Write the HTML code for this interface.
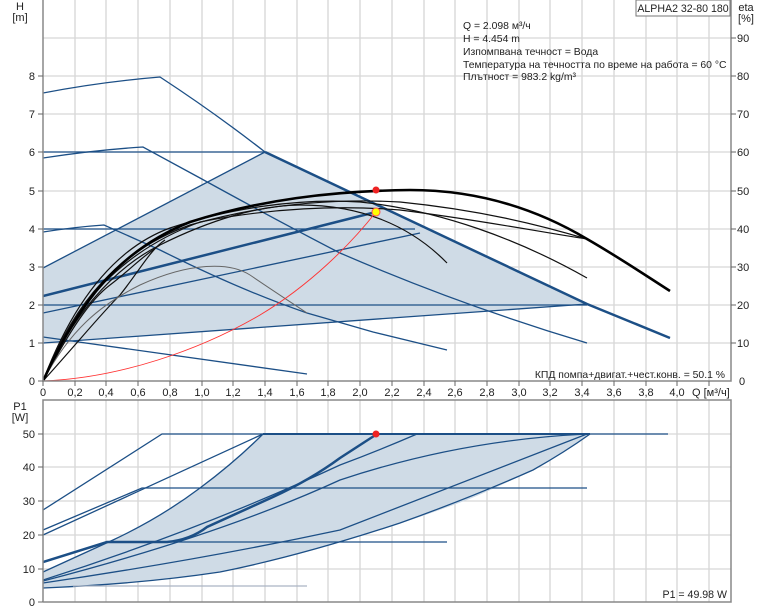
<!DOCTYPE html>
<html><head><meta charset="utf-8"><style>
html,body{margin:0;padding:0;background:#fff;}
svg{display:block;font-family:"Liberation Sans",sans-serif;}
</style></head><body>
<svg width="774" height="611" viewBox="0 0 774 611" xmlns="http://www.w3.org/2000/svg">
<defs>
<clipPath id="ct"><rect x="43" y="0" width="688" height="381"/></clipPath>
<clipPath id="cb"><rect x="43" y="400" width="688" height="202"/></clipPath>
</defs>
<g stroke="#d6d6d6" stroke-width="1.3">
<path d="M75,0V381M106,0V381M138,0V381M170,0V381M202,0V381M233,0V381M265,0V381M297,0V381M328,0V381M360,0V381M392,0V381M424,0V381M455,0V381M487,0V381M519,0V381M550,0V381M582,0V381M614,0V381M646,0V381M677,0V381M709,0V381"/>
<path d="M43,343H731M43,305H731M43,267H731M43,229H731M43,191H731M43,152H731M43,114H731M43,76H731M43,38H731"/>
<path d="M75,400V602M106,400V602M138,400V602M170,400V602M202,400V602M233,400V602M265,400V602M297,400V602M328,400V602M360,400V602M392,400V602M424,400V602M455,400V602M487,400V602M519,400V602M550,400V602M582,400V602M614,400V602M646,400V602M677,400V602M709,400V602"/>
<path d="M43,569H731M43,535H731M43,501H731M43,467H731M43,434H731"/>
</g>
<g clip-path="url(#ct)" fill="none">
<polygon points="43,268 265,152 587,304 43,343" fill="#cfdbe6" stroke="none"/>
<g stroke="#1c4f86" stroke-width="1.3">
<path d="M43,93 Q100,82 160,77 Q215,113 265,152"/>
<path d="M43,158 Q95,150 143,147 L200,178 Q280,222 340,253 Q460,305 587,343"/>
<path d="M43,152 H265"/>
<path d="M43,232 Q75,227 104,225 L160,250 Q240,290 307,313 L373,332 L447,350"/>
<path d="M43,313 L420,233"/>
<path d="M43,229 H415"/>
<path d="M43,305 H587"/>
<path d="M43,343 L587,304"/>
<path d="M43,268 L265,152"/>
<path d="M43,337 L307,374"/>
</g>
<path d="M265,152 L587,304 L670,338" stroke="#1c4f86" stroke-width="2.5"/>
<path d="M43,296 L376,212" stroke="#1c4f86" stroke-width="2.5"/>
<g stroke="#111" stroke-width="1.2">
<path d="M43,381 C70,320 110,270 160,245 C210,220 260,205 300,205 C360,205 410,225 447,263"/>
<path d="M43,381 C70,310 110,250 170,228 C230,208 300,198 360,202 C440,210 520,240 587,278"/>
<path d="M43,381 C75,300 120,250 190,225 C260,205 330,198 400,202 C480,210 540,225 587,239"/>
<path d="M43,381 C75,300 125,250 200,222 C270,208 340,205 400,210 C480,220 540,232 587,239"/>
<path d="M43,381 C80,340 100,315 120,295 C140,270 150,250 165,240"/>
<path d="M43,381 C70,330 90,300 110,285 C130,270 140,258 160,245"/>
</g>
<path d="M43,381 C70,330 100,305 140,285 C190,262 230,262 250,275 C275,292 295,305 307,313" stroke="#666" stroke-width="1"/>
<path d="M43,381 C80,300 120,250 190,222 C260,200 330,191 410,190 C470,190 530,205 587,239 C620,258 645,275 670,291" stroke="#000" stroke-width="2.6"/>
<path d="M43,381 C120,378 200,350 260,315 C310,285 350,245 376,212" stroke="#f33" stroke-width="0.9"/>
<circle cx="376" cy="190" r="3.5" fill="#e22"/>
<circle cx="376" cy="212" r="4" fill="#ff0" stroke="#f55" stroke-width="1"/>
</g>
<g stroke="#888" stroke-width="1.5" fill="none">
<path d="M43,0V381H731V0"/>
</g>
<g stroke="#666" stroke-width="1">
<path d="M38,343H43M38,305H43M38,267H43M38,229H43M38,191H43M38,152H43M38,114H43M38,76H43M38,381H43"/>
<path d="M731,343H736M731,305H736M731,267H736M731,229H736M731,191H736M731,152H736M731,114H736M731,76H736M731,38H736"/>
<path d="M43,381V386M75,381V386M106,381V386M138,381V386M170,381V386M202,381V386M233,381V386M265,381V386M297,381V386M328,381V386M360,381V386M392,381V386M424,381V386M455,381V386M487,381V386M519,381V386M550,381V386M582,381V386M614,381V386M646,381V386M677,381V386M709,381V386"/>
</g>
<g font-size="11" fill="#222">
<text x="20" y="10" text-anchor="middle">H</text>
<text x="20" y="21" text-anchor="middle">[m]</text>
<g text-anchor="end">
<text x="35" y="385">0</text><text x="35" y="347">1</text><text x="35" y="309">2</text><text x="35" y="271">3</text><text x="35" y="233">4</text><text x="35" y="195">5</text><text x="35" y="156">6</text><text x="35" y="118">7</text><text x="35" y="80">8</text>
</g>
<text x="746" y="11" text-anchor="middle">eta</text>
<text x="746" y="22" text-anchor="middle">[%]</text>
<g>
<text x="739" y="385">0</text><text x="737" y="347">10</text><text x="737" y="309">20</text><text x="737" y="271">30</text><text x="737" y="233">40</text><text x="737" y="195">50</text><text x="737" y="156">60</text><text x="737" y="118">70</text><text x="737" y="80">80</text><text x="737" y="42">90</text>
</g>
<g text-anchor="middle">
<text x="43" y="396">0</text><text x="75" y="396">0,2</text><text x="106" y="396">0,4</text><text x="138" y="396">0,6</text><text x="170" y="396">0,8</text><text x="202" y="396">1,0</text><text x="233" y="396">1,2</text><text x="265" y="396">1,4</text><text x="297" y="396">1,6</text><text x="328" y="396">1,8</text><text x="360" y="396">2,0</text><text x="392" y="396">2,2</text><text x="424" y="396">2,4</text><text x="455" y="396">2,6</text><text x="487" y="396">2,8</text><text x="519" y="396">3,0</text><text x="550" y="396">3,2</text><text x="582" y="396">3,4</text><text x="614" y="396">3,6</text><text x="646" y="396">3,8</text><text x="677" y="396">4,0</text>
</g>
<text x="692" y="396">Q [м³/ч]</text>
<g font-size="10.4">
<text x="463" y="29">Q = 2.098 м³/ч</text>
<text x="463" y="42">H = 4.454 m</text>
<text x="463" y="55">Изпомпвана течност = Вода</text>
<text x="463" y="68">Температура на течността по време на работа = 60 °C</text>
<text x="463" y="80">Плътност = 983.2 kg/m³</text>
<text x="725" y="378" text-anchor="end">КПД помпа+двигат.+чест.конв. = 50.1 %</text>
</g>
</g>
<rect x="636" y="0" width="94" height="16" fill="#fff" stroke="#777" stroke-width="1"/>
<text x="683" y="12" font-size="10.6" text-anchor="middle" fill="#222">ALPHA2 32-80 180</text>

<g clip-path="url(#cb)" fill="none">
<path d="M43,572 Q80,555 113,540 Q160,518 200,488 Q235,462 263,434 L590,434 Q540,470 467,500 Q400,525 340,542 Q280,560 220,572 Q140,583 43,588 Z" fill="#cfdbe6" stroke="none"/>
<g stroke="#1c4f86" stroke-width="1.3">
<path d="M43,510 L162,434 H668"/>
<path d="M43,530 L142,488 H587"/>
<path d="M43,535 L263,434"/>
<path d="M43,572 Q80,555 113,540 Q160,518 200,488 Q235,462 263,434"/>
<path d="M43,580 Q200,530 340,465 Q380,450 417,434"/>
<path d="M43,581 Q220,535 340,480 Q460,440 587,434"/>
<path d="M43,583 Q200,560 340,530 Q470,480 587,434"/>
<path d="M43,588 Q140,584 220,572 Q300,556 400,523 Q470,498 533,470 Q565,452 590,434"/>
<path d="M107,542 H447"/>
</g>
<path d="M73,586 H307" stroke="#aab4c4" stroke-width="1.3"/>
<path d="M263,434 H590" stroke="#1c4f86" stroke-width="2"/>
<path d="M43,562 L107,542 H167 Q190,540 207,527 Q240,512 273,497 Q310,480 340,458 Q360,445 377,434" stroke="#1c4f86" stroke-width="2.5"/>
<circle cx="376" cy="434" r="3.5" fill="#e22"/>
</g>
<g stroke="#888" stroke-width="1.5" fill="none">
<path d="M43,602V400H731V602H43"/>
</g>
<g stroke="#666" stroke-width="1">
<path d="M38,602H43M38,569H43M38,535H43M38,501H43M38,467H43M38,434H43"/>
</g>
<g font-size="11" fill="#222">
<text x="20" y="410" text-anchor="middle">P1</text>
<text x="20" y="421" text-anchor="middle">[W]</text>
<g text-anchor="end">
<text x="35" y="606">0</text><text x="35" y="573">10</text><text x="35" y="539">20</text><text x="35" y="505">30</text><text x="35" y="471">40</text><text x="35" y="438">50</text>
</g>
<text x="727" y="598" text-anchor="end" font-size="10.6">P1 = 49.98 W</text>
</g>
</svg>
</body></html>
